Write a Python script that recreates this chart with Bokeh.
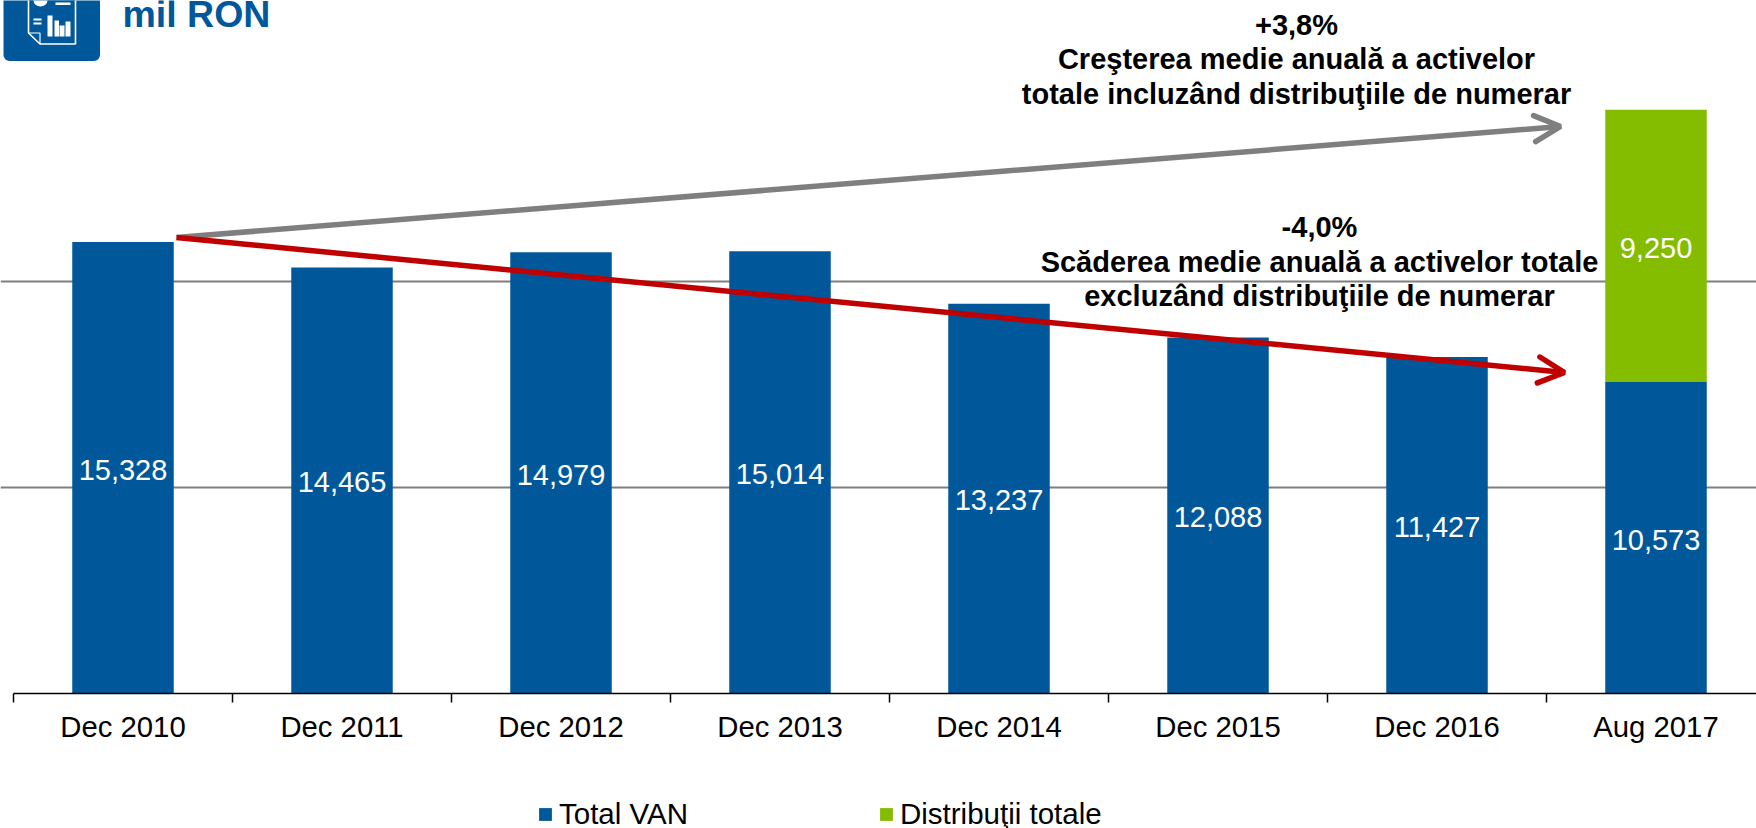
from bokeh.plotting import figure
from bokeh.embed import file_html
from bokeh.resources import INLINE
from bokeh.core.properties import value
from bokeh.models import (Arrow, OpenHead, Range1d, FixedTicker, LinearAxis, Grid,
                          Legend, LegendItem, BoxAnnotation, ColumnDataSource)

categories = ["Dec 2010", "Dec 2011", "Dec 2012", "Dec 2013", "Dec 2014", "Dec 2015", "Dec 2016", "Aug 2017"]
total_van = [15328, 14465, 14979, 15014, 13237, 12088, 11427, 10573]
distributii = [0, 0, 0, 0, 0, 0, 0, 9250]
gridlines = [7000, 14000]

BLUE = "#00589A"
GREEN = "#84BC00"
FONT = "Liberation Sans"
W, H = 1756, 828

# pixel calibration of the original plot
Y0, PY = 692.7, 0.02943      # baseline, px per unit
X0, PX = 122.5, 219.0        # first category centre, px per category

def dx(px):
    return (px - X0) / PX

def dy(py):
    return (Y0 - py) / PY

p = figure(width=W, height=H, output_backend="svg", toolbar_location=None,
           x_range=Range1d(dx(0), dx(W)), y_range=Range1d(dy(H), dy(0)),
           x_axis_type=None, y_axis_type=None, min_border=0,
           outline_line_color=None, background_fill_color="white", border_fill_color="white")
p.styles = {"position": "absolute", "left": "0px", "top": "0px"}
p.grid.visible = False

idx = list(range(len(categories)))

# gridlines
grid = Grid(dimension=1, ticker=FixedTicker(ticks=gridlines), grid_line_color="#7F7F7F",
            grid_line_width=2, bounds=(dx(13), dx(W)))
p.add_layout(grid)

# bars
src = ColumnDataSource(dict(x=idx, van=total_van, dist=distributii,
                            top2=[a + b for a, b in zip(total_van, distributii)]))
BW = 101.5 / PX
r1 = p.vbar(x="x", bottom=0, top="van", width=BW, fill_color=BLUE, line_color=None, source=src)
r2 = p.vbar(x="x", bottom="van", top="top2", width=BW, fill_color=GREEN, line_color=None,
            source=ColumnDataSource(dict(x=idx[-1:], van=total_van[-1:], top2=[total_van[-1] + distributii[-1]])))

# axis
ax = LinearAxis(ticker=FixedTicker(ticks=idx, minor_ticks=[i - 0.5 for i in idx] + [idx[-1] + 0.5]),
                fixed_location=0, bounds=(dx(13), dx(W)))
ax.major_label_overrides = {i: c for i, c in zip(idx, categories)}
ax.major_tick_line_color = None
ax.major_tick_out = 0
ax.major_tick_in = 0
ax.minor_tick_out = 9
ax.minor_tick_in = 0
ax.minor_tick_line_color = "black"
ax.minor_tick_line_width = 1.5
ax.axis_line_color = "black"
ax.axis_line_width = 1.5
ax.major_label_text_font = FONT
ax.major_label_text_font_size = "29.3px"
ax.major_label_text_color = "black"
ax.major_label_standoff = 8
p.add_layout(ax, "below")

# value labels
lab_x = idx + idx[-1:]
lab_y = [v / 2 for v in total_van] + [total_van[-1] + distributii[-1] / 2]
lab_t = [f"{v:,}" for v in total_van] + [f"{distributii[-1]:,}"]
p.text(x=lab_x, y=lab_y, text=lab_t, text_color="white", text_font=value(FONT), y_offset=2,
       text_font_size="29px", text_align="center", text_baseline="middle")

# arrows
gray = Arrow(end=OpenHead(size=26, line_color="#7F7F7F", line_width=5.5, line_cap="round"),
             x_start=dx(176), y_start=dy(237), x_end=dx(1560), y_end=dy(126),
             line_color="#7F7F7F", line_width=5.5)
red = Arrow(end=OpenHead(size=26, line_color="#C00000", line_width=5.5, line_cap="round"),
            x_start=dx(176), y_start=dy(237), x_end=dx(1564), y_end=dy(372),
            line_color="#C00000", line_width=5.5)
p.add_layout(gray)
p.add_layout(red)

# annotations
notes = [
    ("+3,8%", 1296, 24), ("Creşterea medie anuală a activelor", 1296, 58),
    ("totale incluzând distribuţiile de numerar", 1296, 93),
    ("-4,0%", 1319, 226), ("Scăderea medie anuală a activelor totale", 1319, 261),
    ("excluzând distribuţiile de numerar", 1319, 295),
]
p.text(x=[dx(n[1]) for n in notes], y=[dy(n[2]) for n in notes], text=[n[0] for n in notes],
       text_color="black", text_font=value(FONT), text_font_style="bold", text_font_size="29px",
       text_align="center", text_baseline="middle")

# title
p.text(x=[dx(122)], y=[dy(13)], text=["mil RON"], text_color=BLUE, text_font=value(FONT),
       text_font_style="bold", text_font_size="37.5px", text_align="left", text_baseline="middle")

# icon
p.add_layout(BoxAnnotation(left=dx(3), right=dx(99.5), top=dy(-20), bottom=dy(60.5), fill_color=BLUE,
                           fill_alpha=1, line_color=None, border_radius=6, level="underlay"))
p.patch([dx(v) for v in [28, 75, 75, 39.5, 28]], [dy(v) for v in [-5, -5, 43.5, 43.5, 32.5]],
        fill_color=BLUE, line_color="white", line_width=1.6)
p.line([dx(v) for v in [28, 39.5, 39.5]], [dy(v) for v in [32.5, 32.5, 43.5]], line_color="white", line_width=1.2)
p.quad(left=[dx(v) for v in [47, 54, 59, 65, 33, 33, 55]],
       right=[dx(v) for v in [52, 58.5, 64, 70, 41, 41, 70]],
       top=[dy(v) for v in [15, 20, 25, 21, 18, 22, 2]],
       bottom=[dy(v) for v in [36, 36, 36, 36, 20, 24, 4.5]],
       fill_color="white", line_color=None)
p.ellipse(x=[dx(40)], y=[dy(0)], width=[14 / PX], height=[12 / PY], fill_color="white", line_color=None)

# legend
legend = Legend(items=[LegendItem(label=value("Total VAN"), renderers=[r1]),
                       LegendItem(label=value("Distribuţii totale"), renderers=[r2])],
                orientation="horizontal", location=(537, -3), border_line_color=None,
                background_fill_alpha=0, padding=0, margin=0, glyph_width=16, glyph_height=16,
                label_standoff=6, spacing=190, label_text_font=FONT, label_text_font_size="29.5px",
                label_text_color="black")
p.add_layout(legend)

open("out.html", "w").write(file_html(p, INLINE))
